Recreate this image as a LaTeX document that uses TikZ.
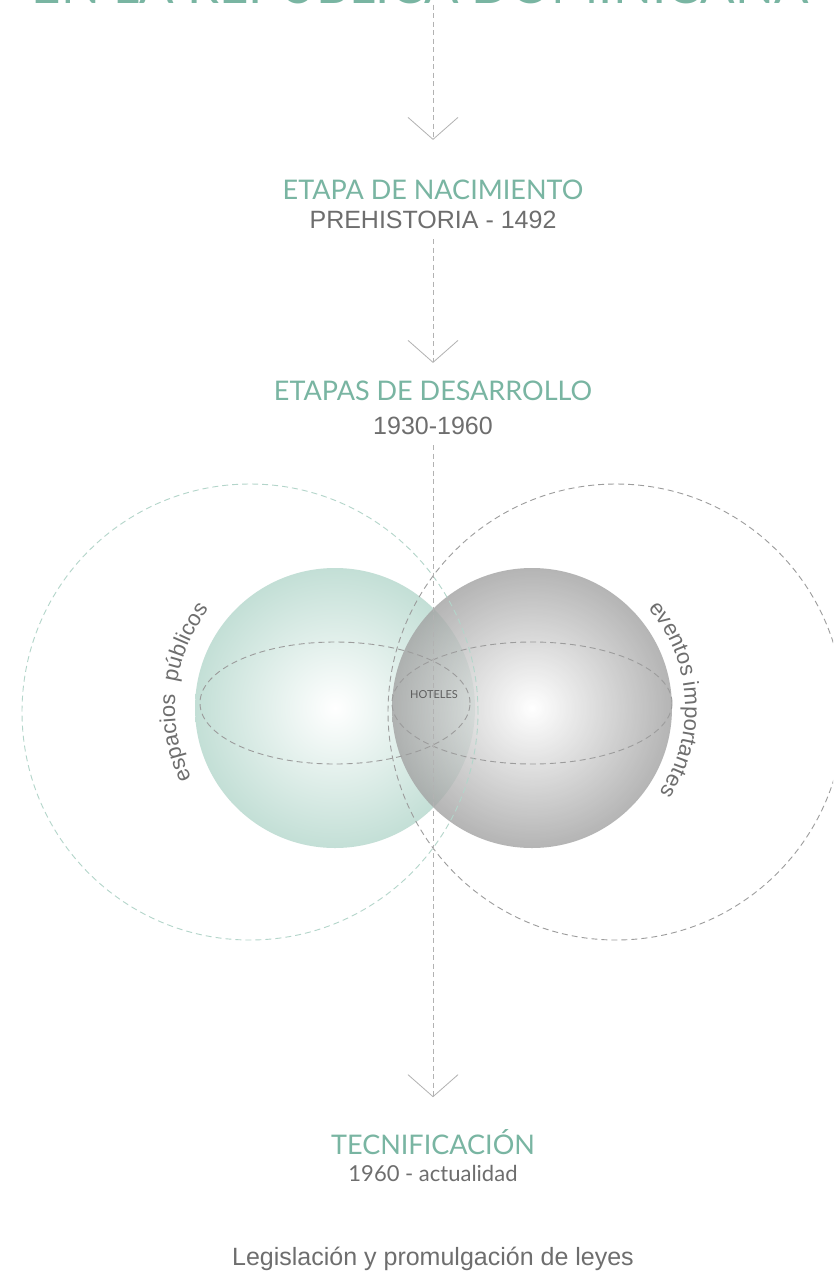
\documentclass[tikz,border=0pt]{standalone}
\usepackage{fontspec}
\setmainfont{Liberation Sans}
\newfontfamily\headfont{Lato}
\usetikzlibrary{arrows.meta,positioning,decorations.text}
\definecolor{headgreen}{HTML}{79B5A2}
\definecolor{txtgray}{HTML}{6E6E6E}
\definecolor{linegray}{HTML}{B2B2B2}
\definecolor{ringgreen}{HTML}{B3D5CA}
\definecolor{ringgray}{HTML}{9C9C9C}
\definecolor{ballgreen}{HTML}{C3DFD6}
\definecolor{ballgray}{HTML}{A2A2A2}

\begin{document}
\begin{tikzpicture}[x=1pt,y=1pt,
 head/.style={font=\headfont\fontsize{27}{30}\selectfont,text=headgreen,inner sep=0pt},
 datetxt/.style={font=\fontsize{25}{28}\selectfont,text=txtgray,inner sep=0pt},
 flow/.style={draw=linegray,dash pattern=on 5pt off 3.5pt,line width=0.8pt,
   -{Straight Barb[length=22pt,width=50pt,line width=0.8pt]}},
 ring/.style={dash pattern=on 6pt off 4pt,line width=0.9pt},
 arctext/.style={decorate,decoration={text along path,text align=center,
   text={|\fontsize{22}{24}\selectfont\color{txtgray}|#1}}}]
\path[use as bounding box,clip] (0,0) rectangle (833,-1274);
\fill[white] (0,0) rectangle (833,-1274);

% esferas
\shade[inner color=white,outer color=ballgreen] (335,-708) circle[radius=140];
\shade[inner color=white,outer color=ballgray,opacity=0.8] (532,-708) circle[radius=140];
\draw[ring,ringgray] (335,-703) ellipse[x radius=135,y radius=61];
\draw[ring,ringgray] (532,-703) ellipse[x radius=140,y radius=61];
\draw[ring,ringgreen] (250,-712) circle[radius=228];
\draw[ring,ringgray] (616,-712) circle[radius=228];
\node[font=\headfont\fontsize{11}{12}\selectfont,text=txtgray!85!black] (hotel) at (434,-695) {HOTELES};
\path[arctext={espacios\ \ públicos}] (335,-708) ++(214:160) arc[start angle=214,end angle=134,radius=160];
\path[arctext={eventos importantes}] (532,-708) ++(48:153) arc[start angle=48,end angle=-41,radius=153];

% etapas
\node[head,font=\headfont\fontsize{51}{54}\selectfont,anchor=base] (title) at (420,-4) {EN LA REPÚBLICA DOMINICANA};
\node[head] (birth) at (433,-190) {ETAPA DE NACIMIENTO};
\node[datetxt,below=11pt of birth] (birthyr) {PREHISTORIA - 1492};
\node[head] (dev) at (433,-391) {ETAPAS DE DESARROLLO};
\node[datetxt,below=16pt of dev] (devyr) {1930-1960};
\node[head] (tech) at (433,-1142) {TECNIFICACIÓN};
\node[head,text=txtgray,font=\headfont\fontsize{22}{24}\selectfont,below=10pt of tech] (techyr) {1960 - actualidad};
\node[datetxt,anchor=base] (law) at (433,-1265) {Legislación y promulgación de leyes};

\draw[flow,shorten >=40pt] (title.south -| birth) -- (birth);
\draw[flow,shorten <=10pt,shorten >=18pt] (birthyr) -- (dev);
\draw[flow,shorten <=10pt,shorten >=32pt] (devyr) -- (tech);
\end{tikzpicture}
\end{document}
